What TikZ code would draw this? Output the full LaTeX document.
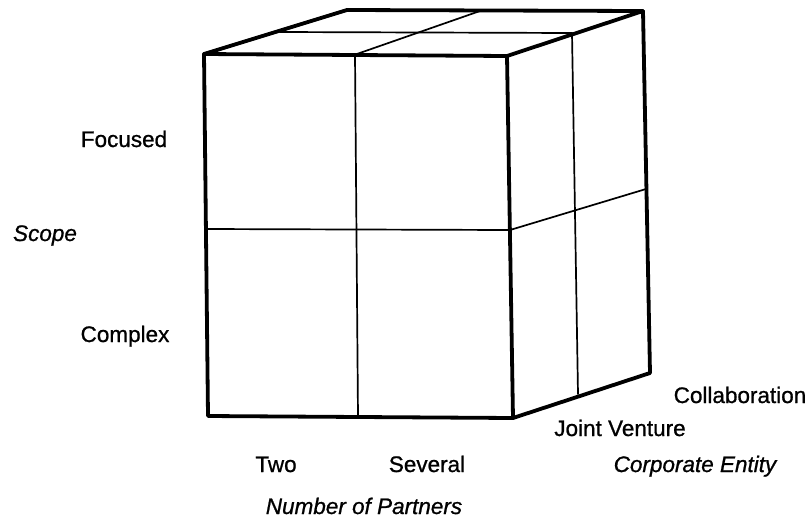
\documentclass[tikz,border=0pt]{standalone}
\usepackage{fontspec}
\setmainfont{Liberation Sans}[BoldFont=Liberation Sans, BoldFeatures={FakeBold=0.9}, BoldItalicFont=Liberation Sans Italic, BoldItalicFeatures={FakeBold=0.9}]
\usetikzlibrary{positioning}

\begin{document}
\begin{tikzpicture}[
        x=1pt, y=-1pt,
        edge/.style={line width=3.8pt, line join=round, line cap=round},
        grid/.style={line width=1.7pt, line cap=round},
        label/.style={anchor=base, inner sep=0pt, font=\fontsize{22.5}{26}\selectfont\bfseries},
        axis/.style={label, font=\fontsize{22.5}{26}\selectfont\bfseries\itshape}
    ]
        \useasboundingbox (0,0) rectangle (811,523);

        % corners of the cube
        \coordinate (ftl) at (204,54);
        \coordinate (ftr) at (507,56);
        \coordinate (fbr) at (513,418);
        \coordinate (fbl) at (208,416);
        \coordinate (btl) at (347,10);
        \coordinate (btr) at (643,11);
        \coordinate (bbr) at (650,373);

        % dividing lines
        \coordinate (topmidf) at (354,55);
        \coordinate (topmidb) at (480,11);
        \coordinate (topmidl) at (280,32);
        \coordinate (topmidr) at (572,33);
        \coordinate (frontmidt) at (355,55);
        \coordinate (frontmidb) at (358,417);
        \coordinate (frontmidl) at (206,229);
        \coordinate (frontmidr) at (510,230);
        \coordinate (sidemidt) at (572,33);
        \coordinate (sidemidb) at (578,394);
        \coordinate (sidemidl) at (510,230);
        \coordinate (sidemidr) at (646,189);

        \draw[grid] (topmidf) -- (topmidb);
        \draw[grid] (topmidl) -- (topmidr);
        \draw[grid] (frontmidt) -- (frontmidb);
        \draw[grid] (frontmidl) -- (frontmidr);
        \draw[grid] (sidemidt) -- (sidemidb);
        \draw[grid] (sidemidl) -- (sidemidr);

        \draw[edge] (ftl) -- (ftr) -- (fbr) -- (fbl) -- cycle;
        \draw[edge] (ftl) -- (btl) -- (btr) -- (ftr);
        \draw[edge] (btr) -- (bbr) -- (fbr);

        % labels
        \node[label] (focused) at (124,147) {Focused};
        \node[axis] (scope) at (45,241) {Scope};
        \node[label] (complex) at (125,342) {Complex};
        \node[label] (two) at (276,472) {Two};
        \node[label] (several) at (427,472) {Several};
        \node[axis] (partners) at (364,514) {Number of Partners};
        \node[label] (collab) at (740,403) {Collaboration};
        \node[label] (joint) at (620,436) {Joint Venture};
        \node[axis] (entity) at (695,472) {Corporate Entity};
    \end{tikzpicture}
\end{document}
